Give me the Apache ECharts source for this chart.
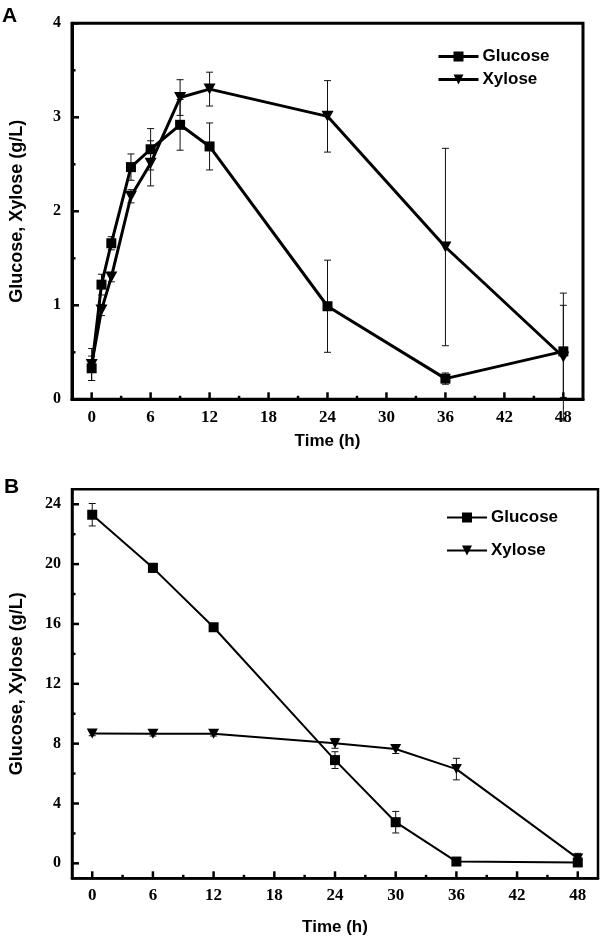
<!DOCTYPE html>
<html>
<head>
<meta charset="utf-8">
<script src="https://cdn.jsdelivr.net/npm/echarts@6/dist/echarts.min.js"></script>
<style>
html,body{margin:0;padding:0;background:#fff;}
#chart{width:600px;height:938px;}
</style>
</head>
<body>
<div id="chart"></div>
<script>
const timeA = [0, 1, 2, 4, 6, 9, 12, 24, 36, 48];
const glucoseA = [0.33, 1.22, 1.66, 2.47, 2.66, 2.92, 2.69, 0.99, 0.22, 0.51];
const glucoseErrA = [0.13, 0.11, 0.07, 0.14, 0.22, 0.27, 0.25, 0.49, 0.06, 0.49];
const xyloseA = [0.37, 0.95, 1.30, 2.16, 2.51, 3.21, 3.30, 3.01, 1.62, 0.45];
const xyloseErrA = [0.17, 0.06, 0.05, 0.07, 0.24, 0.19, 0.18, 0.38, 1.05, 0.68];

const timeB = [0, 6, 12, 24, 30, 36, 48];
const glucoseB = [23.3, 19.75, 15.78, 6.9, 2.75, 0.12, 0.06];
const glucoseErrB = [0.75, 0.3, 0.2, 0.56, 0.72, 0.1, 0.15];
const xyloseB = [8.68, 8.66, 8.66, 8.02, 7.64, 6.3, 0.33];
const xyloseErrB = [0.15, 0.15, 0.15, 0.33, 0.3, 0.72, 0.34];

const xMajor = [0, 6, 12, 18, 24, 30, 36, 42, 48];
const xMinor = [3, 9, 15, 21, 27, 33, 39, 45];
const yMajorA = [0, 1, 2, 3, 4];
const yMinorA = [0.5, 1.5, 2.5, 3.5];
const yMajorB = [0, 4, 8, 12, 16, 20, 24];
const yMinorB = [2, 6, 10, 14, 18, 22];

const serif = '"Liberation Serif", "Times New Roman", serif';
const sans = '"Liberation Sans", Arial, sans-serif';
const triDown = 'path://M0,0 L20,0 L10,18 Z';
const X_MIN = -2, X_MAX = 50;
const Y_RANGE = [[0, 4], [-1, 25]];

const chart = echarts.init(document.getElementById('chart'), null, {renderer: 'canvas'});

function errSeries(gi, xs, ys, es, cap, lw) {
  return {
    type: 'custom', xAxisIndex: gi, yAxisIndex: gi, z: 1, silent: true, clip: false,
    data: xs.map((x, i) => [x, ys[i] - es[i], ys[i] + es[i]]),
    encode: {x: 0, y: [1, 2]},
    renderItem: function (params, api) {
      const lo = api.coord([api.value(0), api.value(1)]);
      const hi = api.coord([api.value(0), api.value(2)]);
      const st = {stroke: '#111', lineWidth: lw};
      return {type: 'group', children: [
        {type: 'line', shape: {x1: lo[0], y1: lo[1], x2: hi[0], y2: hi[1]}, style: st},
        {type: 'line', shape: {x1: lo[0] - cap, y1: lo[1], x2: lo[0] + cap, y2: lo[1]}, style: st},
        {type: 'line', shape: {x1: hi[0] - cap, y1: hi[1], x2: hi[0] + cap, y2: hi[1]}, style: st}
      ]};
    }
  };
}

// one series per axis: [value, isMajor]
function tickSeries(gi, dim, major, minor, color) {
  const yMin = Y_RANGE[gi][0];
  const items = major.map(v => [v, 1]).concat(minor.map(v => [v, 0]));
  return {
    type: 'custom', xAxisIndex: gi, yAxisIndex: gi, z: 10, zlevel: 1, silent: true, clip: false,
    data: items.map(t => dim === 'x' ? [t[0], yMin, t[1]] : [X_MIN, t[0], t[1]]),
    encode: {x: 0, y: 1},
    renderItem: function (params, api) {
      const p = api.coord([api.value(0), api.value(1)]);
      const len = api.value(2) ? 7 : 3.5;
      const shape = dim === 'x'
        ? {x1: p[0], y1: p[1], x2: p[0], y2: p[1] - len}
        : {x1: p[0], y1: p[1], x2: p[0] + len, y2: p[1]};
      return {type: 'line', shape: shape, style: {stroke: color, lineWidth: 2.5}};
    }
  };
}

function lineSeries(gi, name, xs, ys, symbol, size, lw) {
  return {
    type: 'line', name: name, xAxisIndex: gi, yAxisIndex: gi, z: 3,
    data: xs.map((x, i) => [x, ys[i]]),
    symbol: symbol, symbolSize: size, showAllSymbol: true, clip: false,
    lineStyle: {color: '#000', width: lw}, itemStyle: {color: '#000'},
    emphasis: {disabled: true}, animation: false
  };
}

function labelX(gi, axisW, nameGap, labelMargin) {
  return {
    gridIndex: gi, type: 'value', min: X_MIN, max: X_MAX, position: 'bottom',
    axisLine: {show: true, onZero: false, lineStyle: {color: '#000', width: axisW}},
    axisTick: {show: false},
    axisLabel: {show: true, customValues: xMajor, color: '#000', fontFamily: serif, fontWeight: 'bold', fontSize: 17, margin: labelMargin},
    splitLine: {show: false},
    name: 'Time (h)', nameLocation: 'middle', nameGap: nameGap,
    nameTextStyle: {color: '#000', fontFamily: sans, fontWeight: 'bold', fontSize: 17}
  };
}
function labelY(gi, major, axisW, labelMargin) {
  return {
    gridIndex: gi, type: 'value', min: Y_RANGE[gi][0], max: Y_RANGE[gi][1], position: 'left',
    axisLine: {show: true, onZero: false, lineStyle: {color: '#000', width: axisW}},
    axisTick: {show: false},
    axisLabel: {show: true, customValues: major, color: '#000', fontFamily: serif, fontWeight: 'bold', fontSize: 16, margin: labelMargin},
    splitLine: {show: false},
    name: 'Glucose, Xylose (g/L)', nameLocation: 'middle', nameRotate: 90, nameGap: 46,
    nameTextStyle: {color: '#000', fontFamily: sans, fontWeight: 'bold', fontSize: 18}
  };
}

const option = {
  animation: false,
  backgroundColor: '#fff',
  grid: [
    {left: 72, top: 23.3, width: 511, height: 376, show: true, borderColor: '#000', borderWidth: 3},
    {left: 72, top: 489.3, width: 526, height: 389, show: true, borderColor: '#000', borderWidth: 2.5}
  ],
  xAxis: [labelX(0, 3, 34, 10), labelX(1, 2.5, 41, 9)],
  yAxis: [labelY(0, yMajorA, 3, 11), labelY(1, yMajorB, 2.5, 11)],
  legend: [
    {left: 432, top: 43, orient: 'vertical', itemWidth: 40, itemHeight: 12.5, itemGap: 6,
     data: ['Glucose', 'Xylose'], selectedMode: false, lineStyle: {width: 3},
     textStyle: {color: '#000', fontFamily: sans, fontWeight: 'bold', fontSize: 17, padding: [0, 0, 0, -1]}},
    {left: 441, top: 504, orient: 'vertical', itemWidth: 40, itemHeight: 12.5, itemGap: 16,
     data: ['Glucose', 'Xylose'], selectedMode: false, lineStyle: {width: 2},
     textStyle: {color: '#000', fontFamily: sans, fontWeight: 'bold', fontSize: 17, padding: [0, 0, 0, -1]}}
  ],
  graphic: [
    {type: 'text', left: 2, top: 6, style: {text: 'A', fill: '#000', font: 'bold 21px ' + sans}},
    {type: 'text', left: 4, top: 477, style: {text: 'B', fill: '#000', font: 'bold 21px ' + sans}}
  ],
  series: [
    tickSeries(0, 'x', xMajor, xMinor, '#000'),
    tickSeries(0, 'y', yMajorA, yMinorA, '#000'),
    tickSeries(1, 'x', xMajor, xMinor, '#000'),
    tickSeries(1, 'y', yMajorB, yMinorB, '#000'),
    errSeries(0, timeA, glucoseA, glucoseErrA, 3.5, 1),
    errSeries(0, timeA, xyloseA, xyloseErrA, 3.5, 1),
    lineSeries(0, 'Glucose', timeA, glucoseA, 'rect', 10, 3),
    lineSeries(0, 'Xylose', timeA, xyloseA, triDown, [12, 11], 3),
    errSeries(1, timeB, glucoseB, glucoseErrB, 3.5, 1),
    errSeries(1, timeB, xyloseB, xyloseErrB, 3.5, 1),
    lineSeries(1, 'Glucose', timeB, glucoseB, 'rect', 10, 2),
    lineSeries(1, 'Xylose', timeB, xyloseB, triDown, [11, 10], 2)
  ]
};
chart.setOption(option);
</script>
</body>
</html>
